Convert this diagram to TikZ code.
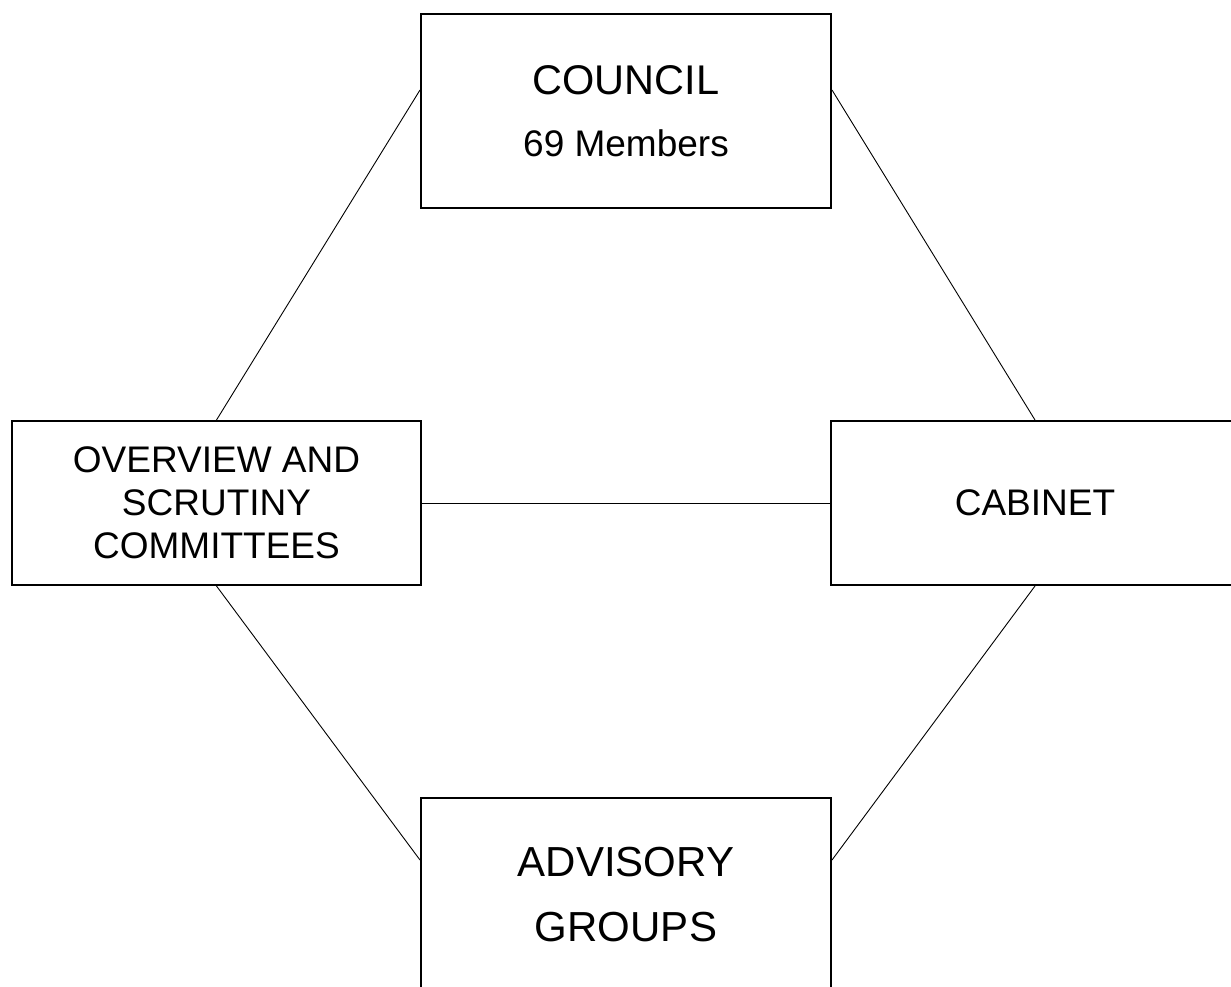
\documentclass[tikz,border=0pt]{standalone}
\usepackage{fontspec}
\setmainfont{Liberation Sans}
\begin{document}
\begin{tikzpicture}[x=1pt,y=-1pt,
  box/.style={draw,line width=2pt,rectangle,align=center,inner sep=0pt},
  link/.style={line width=0.9pt}]
\useasboundingbox (0,0) rectangle (1231,987);
\node[box,minimum width=410pt,minimum height=194pt,font=\fontsize{37}{62}\selectfont] (council) at (626,111) {{\fontsize{41.5}{62}\selectfont COUNCIL}\\69 Members};
\node[box,minimum width=409pt,minimum height=164pt,font=\fontsize{37}{43}\selectfont] (overview) at (216.5,503) {OVERVIEW AND\\SCRUTINY\\COMMITTEES};
\node[box,minimum width=408pt,minimum height=164pt,font=\fontsize{37}{46}\selectfont] (cabinet) at (1035,503) {CABINET};
\node[box,minimum width=410pt,minimum height=194pt,font=\fontsize{42}{65}\selectfont] (advisory) at (626,895) {ADVISORY\\GROUPS};
\coordinate (cL) at ([yshift=21pt]council.west);
\coordinate (cR) at ([yshift=21pt]council.east);
\coordinate (aL) at ([yshift=35pt]advisory.west);
\coordinate (aR) at ([yshift=35pt]advisory.east);
\draw[link] (overview.north) -- (cL);
\draw[link] (cR) -- (cabinet.north);
\draw[link] (overview.east) -- (cabinet.west);
\draw[link] (overview.south) -- (aL);
\draw[link] (cabinet.south) -- (aR);
\end{tikzpicture}
\end{document}
